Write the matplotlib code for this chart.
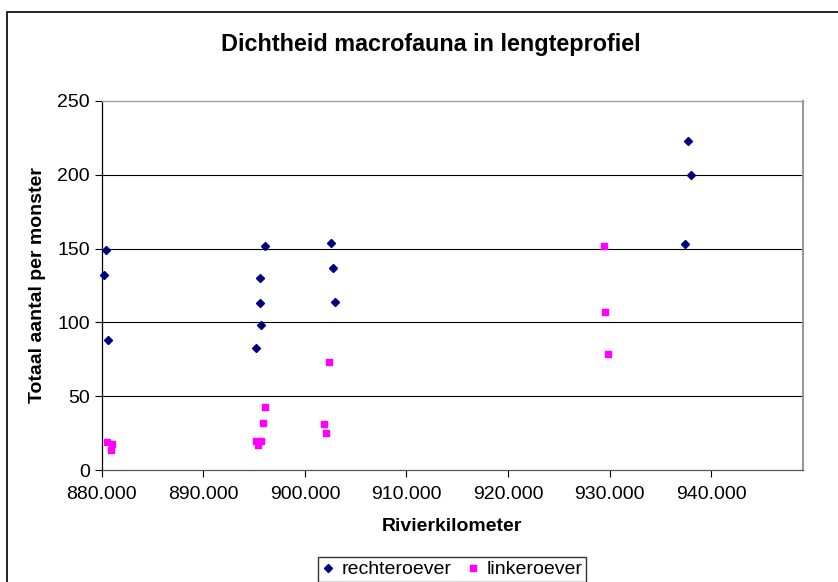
import numpy as np
import matplotlib
matplotlib.use('Agg')
import matplotlib.pyplot as plt
from matplotlib.patches import Rectangle

plt.rcParams['font.family'] = ['Liberation Sans', 'DejaVu Sans']

# data
km_rechts  = [880.4, 880.2, 880.6,
              896.05, 895.55, 895.55, 895.7, 895.15,
              902.55, 902.8, 903.0,
              937.7, 938.05, 937.45]
aantal_rechts = [149, 132, 88,
                 152, 130, 113, 98, 83,
                 154, 137, 114,
                 223, 200, 153]

km_links  = [880.55, 881.0, 880.95,
             896.05, 895.85, 895.15, 895.65, 895.4,
             902.35, 901.9, 902.1,
             929.4, 929.55, 929.85]
aantal_links = [19, 18, 14,
                43, 32, 20, 20, 17,
                73, 31, 25,
                152, 107, 79]

x_ticks = [880, 890, 900, 910, 920, 930, 940]
y_ticks = [0, 50, 100, 150, 200, 250]

fig = plt.figure(figsize=(8.38, 5.82), dpi=100)
ax = fig.add_axes([101.7/838, 1-470.3/582, (802.7-101.7)/838, (470.3-100.7)/582])

ax.plot(km_rechts, aantal_rechts, linestyle='none', marker='D', ms=4.5,
        color='#000080', label='rechteroever', clip_on=False, zorder=3)
ax.plot(km_links, aantal_links, linestyle='none', marker='s', ms=5,
        color='#FF00FF', label='linkeroever', clip_on=False, zorder=3)

ax.set_xlim(880, 949)
ax.set_ylim(0, 250)
ax.set_xticks(x_ticks)
ax.set_xticklabels(['%d.000' % v for v in x_ticks])
ax.set_yticks(y_ticks)
ax.tick_params(axis='both', labelsize=14, direction='out', length=5, width=0.8, color='black')
ax.tick_params(axis='x', pad=6)

for yv in y_ticks[1:-1]:
    ax.axhline(yv, color='black', lw=0.8, zorder=1)

ax.spines['left'].set_color('black')
ax.spines['bottom'].set_color('#555555')
ax.spines['top'].set_color('#999999')
ax.spines['right'].set_color('#999999')
ax.spines['right'].set_linewidth(1.5)
for s in ['left', 'bottom', 'top']:
    ax.spines[s].set_linewidth(0.9)

ax.set_xlabel('Rivierkilometer', fontsize=14, fontweight='bold', labelpad=11)
ax.set_ylabel('Totaal aantal per monster', fontsize=14, fontweight='bold', labelpad=8)

fig.text(431/838, 1-44/582, 'Dichtheid macrofauna in lengteprofiel',
         ha='center', va='center', fontsize=16.8, fontweight='bold')

# outer chart border (runs past right and bottom edge)
fig.add_artist(Rectangle((7/838, -0.2), 1.5, 1-12/582+0.2, transform=fig.transFigure,
                         fill=False, edgecolor='black', lw=1.2, clip_on=False))

leg = fig.legend(loc='upper center', bbox_to_anchor=(452/838, 1-557/582), ncol=2,
                 fontsize=14, frameon=True, fancybox=False, edgecolor='black',
                 handlelength=0.6, handletextpad=0.4, columnspacing=0.8,
                 borderpad=0.2, borderaxespad=0, markerscale=0.9)
leg.get_frame().set_linewidth(1.0)

fig.savefig('out.png', dpi=100)
